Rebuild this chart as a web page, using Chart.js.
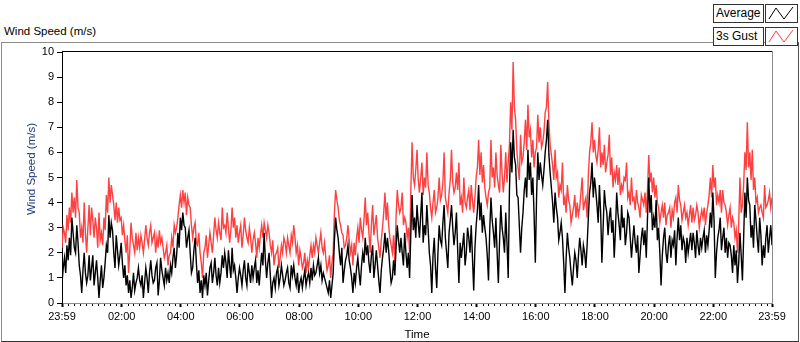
<!DOCTYPE html>
<html>
<head>
<meta charset="utf-8">
<script src="https://cdn.jsdelivr.net/npm/chart.js@4.4.0/dist/chart.umd.min.js"></script>
<style>
  html, body { margin: 0; padding: 0; background: #fff; }
  #wrap { position: relative; width: 800px; height: 342px; overflow: hidden; font-family: "Liberation Sans", Arial, sans-serif; }
  #frame { position: absolute; left: 1px; top: 42px; width: 796px; height: 298px; border-top: 1px solid #8c8c8c; border-left: 1px solid #8c8c8c; border-right: 1px solid #555; border-bottom: 1px solid #333; }
  #title { position: absolute; left: 4px; top: 24px; font-size: 11.5px; line-height: 14px; color: #000; }
  #ytitle { position: absolute; left: 31px; top: 169px; font-size: 11.5px; line-height: 14px; color: #1a3478; white-space: nowrap; transform: translate(-50%, -50%) rotate(-90deg); }
  #xtitle { position: absolute; left: 417px; top: 327px; font-size: 11.5px; line-height: 14px; color: #000; transform: translateX(-50%); }
  canvas { position: absolute; left: 0; top: 0; }
  .lbox { position: absolute; box-sizing: border-box; height: 19px; border: 1px solid #333; background: #fff; font-size: 12px; line-height: 17px; padding-left: 2px; color: #000; }
  .lname { left: 713px; width: 51px; }
  .lsample { left: 765px; width: 33px; padding: 0; }
  .lsample svg { display: block; }
</style>
</head>
<body>
<div id="wrap">
  <div id="frame"></div>
  <div id="title">Wind Speed (m/s)</div>
  <canvas id="windChart" width="800" height="342"></canvas>
  <div id="ytitle">Wind Speed (m/s)</div>
  <div id="xtitle">Time</div>
  <div class="lbox lname" style="top:4px">Average</div>
  <div class="lbox lsample" style="top:4px"><svg width="31" height="17"><polyline points="3,14 10,3 18,14 27,2" fill="none" stroke="#000" stroke-width="1"/></svg></div>
  <div class="lbox lname" style="top:27px">3s Gust</div>
  <div class="lbox lsample" style="top:27px"><svg width="31" height="17"><polyline points="3,14 10,3 18,14 27,2" fill="none" stroke="#ff4040" stroke-width="1"/></svg></div>
</div>
<script>
// one reading every 2.5 minutes, starting at 23:59
const SAMPLE_MIN = 2.5;

const avgSpeed = [
  // 23:59 - 04:47
  0.8, 1.4, 1.8, 1.2, 2.3, 1.7, 2.6, 1.9, 3.4, 2.8, 2.2, 2.0, 3.1, 2.4, 1.5, 1.1, 0.4, 1.3, 2.0, 1.2,
  0.8, 1.1, 1.9, 0.9, 1.4, 1.9, 0.7, 1.2, 1.7, 1.0, 0.2, 0.9, 1.5, 0.6, 1.0, 1.6, 2.3, 2.0, 3.5, 2.6,
  3.2, 2.9, 2.0, 1.4, 2.7, 2.1, 1.5, 1.9, 2.4, 1.6, 1.0, 1.5, 0.7, 1.1, 0.4, 0.9, 0.2, 0.6, 1.2, 0.5,
  0.8, 1.0, 1.4, 0.9, 0.7, 1.1, 0.2, 0.8, 1.4, 1.0, 0.4, 1.2, 1.7, 1.1, 0.8, 0.9, 1.4, 1.6, 0.3, 0.9,
  1.8, 1.3, 1.0, 0.7, 1.4, 0.9, 1.2, 0.8, 1.5, 1.2, 1.8, 2.2, 1.4, 1.9, 2.8, 2.2, 3.4, 2.9, 3.6, 3.1,
  3.0, 2.2, 2.6, 2.9, 2.0, 1.2, 1.4, 2.1, 2.6, 1.6, 0.8, 1.3, 0.4, 0.9, 0.2, 1.1,
  // 04:49 - 09:37
  0.7, 1.2, 0.3, 0.9, 1.4, 1.6, 0.8, 1.2, 1.8, 1.1, 0.7, 1.4, 0.8, 1.2, 1.9, 1.4, 2.0, 1.6, 1.0, 2.1,
  1.5, 1.0, 2.2, 1.3, 1.5, 1.0, 0.4, 1.0, 1.4, 1.1, 0.7, 1.3, 1.7, 1.0, 0.7, 1.6, 1.2, 0.8, 1.5, 1.0,
  1.4, 1.7, 0.8, 1.3, 0.7, 1.4, 2.0, 1.5, 2.8, 1.7, 1.0, 1.6, 2.0, 1.1, 0.2, 0.8, 1.0, 0.6, 1.2, 1.4,
  0.7, 1.0, 1.5, 1.1, 0.7, 0.9, 1.2, 1.4, 0.8, 0.6, 1.5, 1.1, 1.5, 1.0, 0.7, 1.2, 0.4, 0.8, 1.0, 0.6,
  1.0, 1.3, 0.7, 1.0, 1.2, 0.8, 1.4, 0.9, 1.5, 1.1, 1.2, 1.5, 1.8, 1.2, 1.5, 0.9, 1.2, 1.0, 0.8, 0.6,
  0.4, 0.9, 0.2, 0.7, 1.2, 2.5, 3.4, 2.9, 2.6, 2.0, 1.5, 2.2, 0.8, 1.3, 1.7, 1.9,
  // 09:39 - 14:27
  2.3, 1.7, 1.4, 1.0, 0.4, 1.2, 0.8, 1.4, 1.8, 1.2, 0.7, 1.5, 2.0, 1.6, 2.6, 1.9, 2.3, 1.6, 1.2, 1.9,
  2.3, 1.0, 1.5, 2.1, 1.5, 0.9, 0.4, 1.3, 1.8, 2.2, 2.8, 2.0, 2.6, 2.1, 1.4, 0.8, 1.0, 1.7, 1.1, 2.2,
  3.1, 2.5, 2.0, 2.6, 2.0, 1.5, 2.8, 2.0, 1.4, 2.0, 1.0, 2.8, 4.3, 2.9, 3.4, 2.6, 3.9, 3.2, 2.6, 3.5,
  4.4, 2.4, 3.1, 2.7, 3.9, 3.0, 2.0, 1.5, 0.4, 1.9, 2.6, 1.4, 0.6, 2.0, 3.1, 2.5, 2.3, 3.2, 3.9, 2.6,
  2.0, 1.4, 2.8, 3.3, 3.9, 3.0, 2.3, 2.8, 3.6, 2.1, 0.8, 2.4, 1.8, 2.3, 2.8, 1.5, 2.0, 3.0, 2.6, 2.0,
  3.1, 1.8, 0.5, 2.2, 3.1, 3.7, 4.7, 3.3, 4.0, 2.8, 3.5, 3.0, 2.6, 1.9, 0.9, 2.9,
  // 14:29 - 19:17
  4.2, 3.3, 2.8, 2.2, 3.4, 2.0, 0.8, 2.5, 3.9, 3.0, 2.6, 2.0, 3.6, 2.4, 1.0, 4.5, 6.4, 5.2, 6.9, 5.8,
  5.5, 4.3, 4.2, 3.1, 2.0, 3.0, 3.6, 4.5, 5.0, 4.2, 6.1, 4.9, 5.6, 4.3, 5.0, 3.5, 1.6, 4.2, 6.0, 4.9,
  5.6, 5.1, 4.7, 5.3, 6.0, 6.5, 7.3, 5.9, 5.2, 4.6, 4.0, 3.2, 4.4, 3.8, 3.4, 2.5, 2.8, 3.2, 2.6, 1.6,
  0.4, 1.8, 2.8, 2.2, 1.8, 1.2, 0.7, 1.4, 2.0, 1.7, 1.0, 1.9, 2.6, 2.1, 1.5, 2.3, 2.0, 1.4, 2.3, 3.4,
  4.4, 4.8, 5.6, 4.2, 5.0, 4.5, 3.9, 3.2, 4.7, 3.6, 1.6, 3.0, 4.5, 3.9, 3.6, 2.7, 3.4, 3.8, 2.8, 3.3,
  1.8, 2.9, 4.4, 3.6, 3.1, 2.5, 3.9, 3.0, 3.4, 2.3, 2.8, 3.6, 3.4, 2.6, 1.8, 2.5,
  // 19:19 - 23:59
  3.1, 2.4, 2.0, 2.7, 1.2, 1.9, 2.6, 3.0, 2.3, 2.9, 1.8, 3.4, 5.0, 3.6, 4.3, 2.9, 3.4, 3.0, 4.1, 2.5,
  3.0, 2.0, 0.7, 1.9, 2.6, 3.0, 2.0, 1.6, 2.3, 2.7, 1.8, 2.5, 2.3, 2.9, 1.5, 2.6, 3.4, 2.5, 3.1, 2.1,
  2.6, 2.4, 1.6, 2.6, 2.0, 2.4, 2.8, 2.1, 2.8, 2.4, 1.8, 2.9, 2.3, 1.9, 2.6, 2.2, 2.6, 2.9, 2.0, 2.7,
  2.3, 2.9, 3.6, 3.0, 4.4, 3.3, 1.0, 2.0, 2.6, 2.9, 3.4, 2.1, 2.6, 3.0, 2.0, 2.6, 1.8, 2.4, 2.3, 1.9,
  1.2, 2.3, 1.5, 2.1, 0.8, 1.6, 2.8, 1.9, 0.9, 2.6, 4.4, 3.4, 5.0, 4.1, 3.9, 2.6, 3.1, 2.2, 3.9, 3.3,
  2.6, 2.0, 3.4, 2.7, 1.5, 2.3, 1.8, 2.6, 3.1, 2.0, 2.6, 3.1, 2.3
];

const gustSpeed = [
  // 23:59 - 04:47
  2.2, 3.0, 2.8, 2.4, 3.5, 2.9, 3.8, 3.2, 4.4, 3.6, 4.2, 3.4, 4.9, 3.8, 3.6, 2.6, 3.0, 2.4, 4.0, 2.8,
  2.0, 3.0, 3.9, 2.7, 3.8, 3.3, 2.6, 3.4, 3.0, 2.2, 3.6, 2.5, 2.8, 2.3, 3.4, 2.9, 4.3, 3.6, 5.0, 4.0,
  4.7, 4.3, 3.9, 3.3, 4.0, 3.2, 3.8, 3.3, 3.4, 2.7, 3.1, 2.5, 2.0, 2.7, 1.2, 2.1, 3.2, 2.6, 2.3, 2.0,
  2.8, 2.1, 2.6, 2.2, 2.7, 2.4, 2.0, 2.5, 3.1, 2.6, 2.3, 2.8, 3.1, 2.4, 2.6, 2.8, 2.0, 2.6, 2.2, 2.9,
  2.4, 2.6, 2.2, 1.8, 2.0, 2.3, 1.5, 1.9, 2.0, 2.6, 2.2, 3.1, 2.8, 3.0, 3.4, 3.9, 4.3, 3.8, 4.5, 4.0,
  4.4, 3.5, 4.2, 3.9, 3.8, 3.1, 2.6, 3.0, 3.2, 2.4, 2.3, 2.8, 2.0, 1.6, 1.0, 2.0,
  // 04:49 - 09:37
  2.2, 2.7, 1.8, 2.3, 2.8, 2.4, 2.0, 2.7, 3.4, 2.9, 2.6, 3.2, 2.8, 2.5, 3.8, 3.0, 3.1, 2.8, 3.6, 3.0,
  2.4, 2.9, 3.8, 3.0, 3.4, 2.6, 3.1, 2.4, 2.8, 3.1, 2.2, 2.7, 3.4, 2.9, 2.6, 2.4, 3.0, 2.6, 2.0, 2.5,
  2.8, 2.4, 1.8, 2.6, 2.2, 2.7, 3.1, 2.6, 3.2, 2.9, 2.6, 3.1, 2.8, 2.3, 2.0, 2.5, 1.5, 1.9, 2.0, 2.2,
  1.4, 1.8, 2.3, 2.0, 2.6, 2.4, 2.0, 2.6, 2.3, 2.0, 2.7, 2.4, 3.1, 2.6, 2.0, 2.3, 1.5, 2.1, 1.8, 1.4,
  1.6, 2.0, 1.2, 1.7, 1.4, 1.9, 2.3, 1.8, 2.3, 2.0, 2.6, 2.3, 2.0, 2.4, 2.8, 2.2, 2.0, 2.4, 1.8, 1.3,
  1.5, 1.9, 1.0, 1.6, 2.0, 3.6, 4.5, 4.1, 3.8, 3.3, 3.1, 2.8, 2.7, 2.2, 2.3, 2.6,
  // 09:39 - 14:27
  3.1, 2.5, 2.0, 2.3, 1.5, 2.4, 1.9, 2.6, 3.0, 2.4, 3.4, 2.9, 2.6, 3.3, 4.2, 3.1, 3.6, 2.8, 2.0, 3.1,
  3.9, 2.7, 3.1, 3.5, 2.6, 2.2, 1.8, 2.5, 3.0, 3.6, 4.4, 3.3, 4.0, 3.1, 2.6, 2.3, 2.0, 2.7, 1.6, 3.4,
  4.5, 3.9, 3.6, 3.8, 4.4, 3.1, 3.4, 3.2, 2.6, 3.0, 2.0, 4.5, 6.4, 5.0, 4.7, 5.3, 6.1, 4.9, 4.4, 5.0,
  5.6, 4.3, 5.0, 4.6, 6.0, 4.7, 4.4, 3.8, 3.4, 4.0, 4.5, 3.6, 3.8, 4.2, 5.0, 4.1, 4.3, 4.8, 6.0, 4.2,
  3.9, 3.6, 4.4, 4.9, 6.1, 4.8, 4.4, 4.6, 5.2, 4.5, 5.6, 3.9, 4.2, 3.6, 5.0, 4.0, 3.8, 4.2, 4.5, 3.7,
  4.7, 4.1, 3.6, 4.2, 5.0, 5.4, 6.5, 5.1, 6.0, 4.8, 5.5, 4.6, 4.2, 3.9, 4.4, 4.6,
  // 14:29 - 19:17
  6.5, 5.0, 5.4, 4.6, 6.0, 5.1, 4.7, 4.4, 6.3, 5.2, 4.4, 5.0, 6.0, 4.8, 5.6, 6.3, 8.0, 6.9, 9.6, 7.8,
  7.3, 6.1, 5.4, 4.9, 6.7, 5.6, 5.8, 6.4, 7.3, 6.1, 7.9, 6.6, 6.9, 5.8, 6.5, 5.4, 6.0, 6.2, 7.5, 6.4,
  7.0, 6.2, 6.4, 6.8, 7.6, 7.8, 8.8, 7.2, 6.3, 5.9, 5.5, 4.9, 6.1, 5.0, 5.2, 4.2, 4.7, 4.5, 5.6, 3.9,
  4.2, 3.6, 4.7, 4.1, 3.9, 3.2, 3.5, 3.8, 4.3, 3.4, 4.0, 3.5, 3.8, 4.4, 5.0, 3.7, 4.0, 4.2, 3.4, 5.1,
  6.0, 6.4, 7.2, 6.0, 6.5, 5.9, 5.6, 6.1, 7.0, 5.4, 6.0, 5.5, 6.3, 5.2, 5.6, 5.9, 6.7, 5.1, 5.8, 4.6,
  5.2, 4.9, 5.5, 4.7, 5.4, 4.3, 4.7, 4.5, 5.0, 4.9, 5.6, 4.2, 4.4, 3.9, 5.0, 4.1,
  // 19:19 - 23:59
  4.2, 3.7, 4.5, 4.0, 3.8, 3.4, 4.3, 4.1, 3.9, 4.4, 3.6, 4.5, 5.9, 4.8, 5.2, 4.4, 5.0, 4.2, 4.7, 4.0,
  3.8, 3.2, 3.6, 3.9, 3.4, 4.0, 3.1, 3.5, 3.6, 3.8, 3.0, 3.7, 3.4, 4.0, 4.2, 3.6, 4.7, 4.1, 3.9, 3.3,
  3.6, 3.9, 3.4, 3.6, 3.1, 3.5, 3.9, 3.2, 3.8, 3.3, 3.5, 3.9, 3.6, 3.0, 3.4, 3.7, 3.4, 3.8, 3.1, 3.6,
  3.9, 4.3, 5.0, 4.2, 5.5, 4.6, 5.0, 3.9, 4.3, 4.0, 4.5, 3.6, 4.5, 4.0, 3.9, 3.6, 3.1, 3.5, 3.8, 3.0,
  3.4, 3.2, 2.6, 2.9, 2.0, 3.2, 5.0, 3.6, 3.9, 4.7, 6.0, 5.3, 7.2, 5.4, 6.0, 4.9, 6.1, 4.5, 5.0, 4.0,
  4.2, 3.6, 3.8, 3.9, 3.6, 3.4, 4.7, 3.8, 3.9, 4.1, 4.4, 3.8, 4.2
];

// minutes after 23:59 for the labelled ticks
const tickMinutes = [0, 121, 241, 361, 481, 601, 721, 841, 961, 1081, 1201, 1321, 1440];
const tickLabels = ['23:59', '02:00', '04:00', '06:00', '08:00', '10:00', '12:00', '14:00', '16:00', '18:00', '20:00', '22:00', '23:59'];

// unlabelled ticks every 12 minutes
const minorTicks = [];
for (let k = -9; k <= 109; k++) {
    if (k % 10 !== 0) minorTicks.push(121 + 12 * k);
}

const toPoints = arr => arr.map((v, i) => ({ x: i * SAMPLE_MIN, y: v }));

const tickFont = { family: '"Liberation Sans", Arial, sans-serif', size: 11 };

// black top edge, grey right edge, small minor ticks
const plotFrame = {
    id: 'plotFrame',
    afterDraw(chart) {
        const { ctx, chartArea: a } = chart;
        const xs = chart.scales.x;
        ctx.save();
        ctx.fillStyle = '#000';
        ctx.fillRect(a.left, a.top - 1, a.right - a.left + 1, 1);
        ctx.fillStyle = '#8c8c8c';
        ctx.fillRect(a.right, a.top - 1, 1, a.bottom - a.top + 2);
        ctx.fillStyle = '#000';
        minorTicks.forEach(v => {
            const px = Math.round(xs.getPixelForValue(v));
            ctx.fillRect(px, a.bottom + 1, 1, 2);
        });
        ctx.restore();
    }
};

new Chart(document.getElementById('windChart').getContext('2d'), {
    type: 'line',
    data: {
        datasets: [
            { label: 'Average', data: toPoints(avgSpeed), borderColor: '#000', borderWidth: 1.4, pointRadius: 0, tension: 0 },
            { label: '3s Gust', data: toPoints(gustSpeed), borderColor: '#ff4040', borderWidth: 1.4, pointRadius: 0, tension: 0 }
        ]
    },
    options: {
        responsive: false,
        animation: false,
        devicePixelRatio: 1,
        layout: { padding: { top: 52, right: 28, bottom: 0, left: 0 } },
        plugins: { legend: { display: false }, tooltip: { enabled: false } },
        scales: {
            x: {
                type: 'linear',
                min: 0,
                max: 1440,
                afterBuildTicks: s => { s.ticks = tickMinutes.map(v => ({ value: v })); },
                afterFit: s => { s.height = 39; },
                grid: { drawOnChartArea: false, tickLength: 4, tickWidth: 2, tickColor: '#000' },
                border: { color: '#8c8c8c' },
                ticks: {
                    autoSkip: false, maxRotation: 0, padding: 3, color: '#000', font: tickFont,
                    callback: v => tickLabels[tickMinutes.indexOf(v)]
                }
            },
            y: {
                min: 0,
                max: 10,
                afterFit: s => { s.width = 62; },
                grid: { drawOnChartArea: false, tickLength: 5, tickColor: '#000' },
                border: { color: '#000' },
                ticks: { stepSize: 1, padding: 3, color: '#000', font: tickFont }
            }
        }
    },
    plugins: [plotFrame]
});
</script>
</body>
</html>
